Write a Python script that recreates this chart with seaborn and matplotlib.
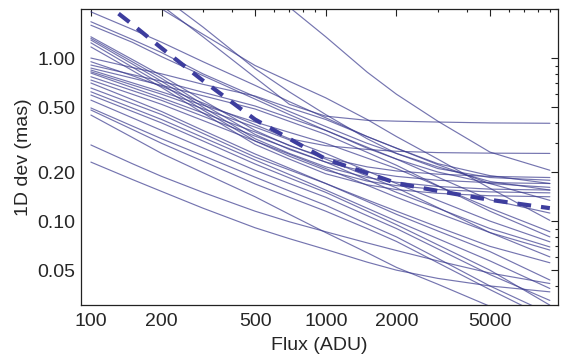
import numpy as np
import pandas as pd
import matplotlib
matplotlib.use('Agg')
import matplotlib.pyplot as plt
import matplotlib.ticker as mticker
import seaborn as sns

flux = [100, 150, 200, 300, 500, 700, 1000, 1500, 2000, 3000, 5000, 9000]

# thin curves: 1D deviation (mas) at each flux point
curves = [
    [20.0, 13.0, 9.5, 5.8, 3.2, 2.05, 1.35, 0.82, 0.60, 0.41, 0.265, 0.205],
    [3.5, 2.6, 2.0, 1.4, 0.90, 0.72, 0.57, 0.42, 0.33, 0.24, 0.159, 0.101],
    [4.3, 2.9, 2.1, 1.35, 0.76, 0.52, 0.44, 0.415, 0.41, 0.405, 0.40, 0.398],
    [4.8, 3.2, 2.4, 1.55, 0.86, 0.62, 0.45, 0.32, 0.26, 0.21, 0.185, 0.178],
    [1.92, 1.5, 1.25, 0.95, 0.68, 0.54, 0.43, 0.33, 0.28, 0.225, 0.19, 0.170],
    [1.67, 1.3, 1.08, 0.80, 0.58, 0.47, 0.38, 0.30, 0.26, 0.215, 0.175, 0.155],
    [1.59, 1.25, 1.02, 0.78, 0.56, 0.45, 0.36, 0.28, 0.24, 0.20, 0.17, 0.161],
    [0.95, 0.78, 0.67, 0.53, 0.39, 0.32, 0.29, 0.275, 0.268, 0.263, 0.261, 0.26],
    [1.35, 0.98, 0.78, 0.55, 0.36, 0.29, 0.245, 0.215, 0.203, 0.194, 0.188, 0.185],
    [1.32, 0.95, 0.75, 0.52, 0.34, 0.275, 0.23, 0.20, 0.188, 0.178, 0.172, 0.170],
    [1.29, 0.92, 0.72, 0.50, 0.32, 0.26, 0.215, 0.185, 0.173, 0.163, 0.157, 0.155],
    [1.24, 0.88, 0.69, 0.48, 0.31, 0.25, 0.205, 0.176, 0.165, 0.156, 0.151, 0.149],
    [1.17, 0.84, 0.66, 0.46, 0.295, 0.24, 0.195, 0.167, 0.156, 0.148, 0.143, 0.141],
    [1.00, 0.875, 0.80, 0.69, 0.585, 0.495, 0.42, 0.33, 0.28, 0.222, 0.17, 0.134],
    [0.906, 0.792, 0.72, 0.617, 0.508, 0.43, 0.36, 0.284, 0.24, 0.186, 0.135, 0.112],
    [0.868, 0.753, 0.68, 0.587, 0.487, 0.409, 0.34, 0.264, 0.22, 0.165, 0.115, 0.080],
    [0.844, 0.705, 0.62, 0.514, 0.405, 0.35, 0.30, 0.2435, 0.21, 0.164, 0.12, 0.086],
    [0.824, 0.684, 0.60, 0.4885, 0.377, 0.315, 0.26, 0.203, 0.17, 0.134, 0.10, 0.0746],
    [0.809, 0.659, 0.57, 0.4605, 0.352, 0.292, 0.24, 0.189, 0.16, 0.121, 0.085, 0.0603],
    [0.768, 0.632, 0.55, 0.44, 0.332, 0.278, 0.23, 0.179, 0.15, 0.12, 0.09, 0.0694],
    [0.733, 0.60, 0.52, 0.414, 0.31, 0.257, 0.21, 0.166, 0.14, 0.112, 0.085, 0.0664],
    [0.703, 0.556, 0.47, 0.36, 0.258, 0.211, 0.17, 0.132, 0.11, 0.087, 0.065, 0.0435],
    [0.655, 0.526, 0.45, 0.345, 0.247, 0.206, 0.17, 0.135, 0.115, 0.092, 0.07, 0.0555],
    [0.621, 0.494, 0.42, 0.326, 0.237, 0.193, 0.155, 0.12, 0.10, 0.078, 0.057, 0.0386],
    [0.593, 0.471, 0.40, 0.31, 0.224, 0.184, 0.15, 0.115, 0.095, 0.0715, 0.05, 0.0305],
    [0.552, 0.43, 0.36, 0.281, 0.205, 0.17, 0.14, 0.108, 0.09, 0.0675, 0.047, 0.0326],
    [0.494, 0.383, 0.32, 0.252, 0.186, 0.153, 0.125, 0.096, 0.08, 0.059, 0.04, 0.027],
    [0.48, 0.365, 0.30, 0.233, 0.169, 0.14, 0.115, 0.09, 0.075, 0.0555, 0.038, 0.025],
    [0.447, 0.326, 0.26, 0.198, 0.141, 0.11, 0.085, 0.064, 0.052, 0.041, 0.030, 0.022],
    [0.293, 0.225, 0.188, 0.150, 0.115, 0.099, 0.086, 0.0735, 0.066, 0.057, 0.048, 0.0414],
    [0.23, 0.18, 0.152, 0.12, 0.091, 0.078, 0.067, 0.056, 0.050, 0.0445, 0.040, 0.0368],
]

# the thick dashed curve
dashed = [2.54, 1.61, 1.15, 0.727, 0.42, 0.32, 0.24, 0.197, 0.171, 0.153, 0.135, 0.120]

x_ticks = [100, 200, 500, 1000, 2000, 5000]
x_labels = ['100', '200', '500', '1000', '2000', '5000']
y_ticks = [0.05, 0.10, 0.20, 0.50, 1.00]
y_labels = ['0.05', '0.10', '0.20', '0.50', '1.00']

# long-form table for seaborn
rows = []
for i, c in enumerate(curves):
    for f, v in zip(flux, c):
        rows.append({'curve': i, 'Flux': f, 'dev': v})
df = pd.DataFrame(rows)
dash_df = pd.DataFrame({'Flux': flux, 'dev': dashed})

sns.set_style('white')
plt.rcParams['font.family'] = ['Liberation Sans', 'DejaVu Sans']

fig = plt.figure(figsize=(5.7, 3.59), dpi=100)
ax = fig.add_axes([0.142, 0.150, 0.837, 0.825])

sns.lineplot(data=df, x='Flux', y='dev', units='curve', estimator=None,
             color='#3a3a8e', alpha=0.7, linewidth=0.85, ax=ax)
sns.lineplot(data=dash_df, x='Flux', y='dev', color='#3d3d9e',
             linewidth=3.0, linestyle=(0, (3.3, 2.4)), ax=ax)

ax.set_xscale('log')
ax.set_yscale('log')
ax.set_xlim(90.7, 9750)
ax.set_ylim(0.0305, 2.0)

ax.xaxis.set_major_locator(mticker.FixedLocator(x_ticks))
ax.xaxis.set_major_formatter(mticker.FixedFormatter(x_labels))
ax.xaxis.set_minor_locator(mticker.LogLocator(base=10, subs=np.arange(1, 10)))
ax.xaxis.set_minor_formatter(mticker.NullFormatter())
ax.yaxis.set_major_locator(mticker.FixedLocator(y_ticks))
ax.yaxis.set_major_formatter(mticker.FixedFormatter(y_labels))
ax.yaxis.set_minor_locator(mticker.LogLocator(base=10, subs=np.arange(1, 10)))
ax.yaxis.set_minor_formatter(mticker.NullFormatter())

ax.tick_params(which='both', direction='in', top=True, right=True,
               labelsize=14, color='#222222', width=0.8)
ax.tick_params(which='major', length=5)
ax.tick_params(axis='x', which='major', pad=6)
ax.tick_params(axis='y', which='major', pad=4)
ax.tick_params(which='minor', length=2.5)

for s in ax.spines.values():
    s.set_color('#222222')
    s.set_linewidth(0.9)

ax.set_xlabel('Flux (ADU)', fontsize=14, labelpad=5)
ax.set_ylabel('1D dev (mas)', fontsize=14, labelpad=4)

fig.savefig('out.png', dpi=100)
